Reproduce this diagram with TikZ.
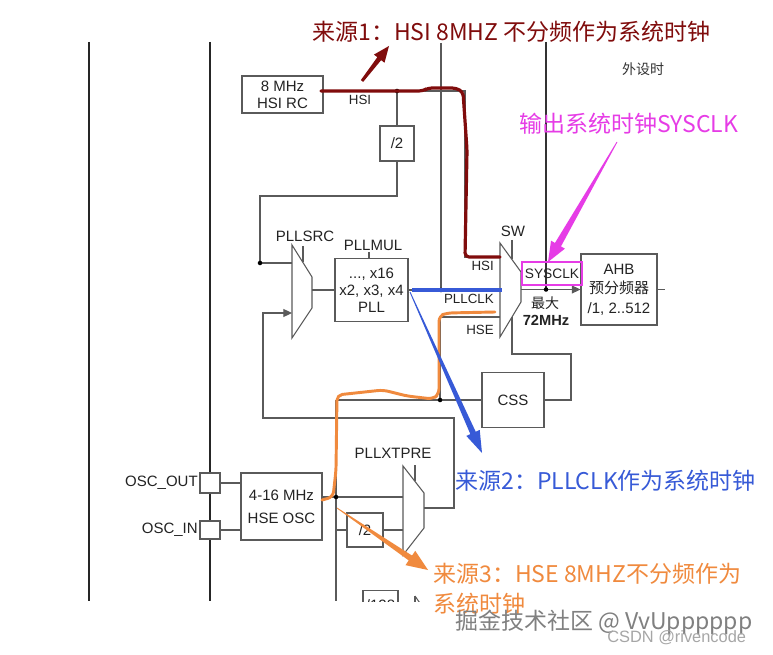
\documentclass[tikz,border=0pt]{standalone}
\usepackage{fontspec}
\setmainfont{Liberation Sans}
\newfontfamily\cjk{Noto Sans CJK SC}
\usetikzlibrary{calc,arrows.meta}
\definecolor{lncol}{RGB}{90,90,90}
\definecolor{txtcol}{RGB}{35,35,35}
\definecolor{hsired}{RGB}{128,12,12}
\definecolor{magcol}{RGB}{230,60,230}
\definecolor{pllblue}{RGB}{55,90,215}
\definecolor{hseor}{RGB}{240,138,62}
\newcommand{\tparrow}[7]{%
  \coordinate (tpB) at ($(#2)!#5!(#1)$);
  \fill[#7] ($(#1)!#3!90:(#2)$) -- ($(tpB)!#4!90:(#2)$) -- ($(tpB)!#6!90:(#2)$) -- (#2) -- ($(tpB)!#6!-90:(#2)$) -- ($(tpB)!#4!-90:(#2)$) -- ($(#1)!#3!-90:(#2)$) -- cycle;}
\begin{document}
\begin{tikzpicture}[x=0.75pt,y=-0.75pt,
  gl/.style={draw=lncol,line width=0.8pt},
  box/.style={draw=lncol,line width=0.8pt,fill=white,inner sep=0,align=center,text=txtcol,font=\fontsize{11.25}{12.75}\selectfont},
  lbl/.style={inner sep=0,text=txtcol,font=\fontsize{11.25}{13}\selectfont},
  slbl/.style={inner sep=0,text=txtcol,font=\fontsize{10}{12}\selectfont},
  ann/.style={inner sep=0,anchor=west,font=\cjk\fontsize{17.25}{20}\selectfont},
  arr/.style={-{Triangle[length=6.5pt,width=6pt]}}
]
\useasboundingbox (0,0) rectangle (773,655);
\fill[white] (0,0) rectangle (773,655);

% vertical rails
\draw[line width=1.6pt, black!85] (89,42) -- (89,601);
\draw[line width=1.6pt, black!85] (210,42) -- (210,601);
\draw[gl] (441,43) -- (441,290);
\draw[line width=1.1pt, black!80] (546,42) -- (546,289.5);

% HSI path (under red)
\draw[gl] (323,91) -- (465,91) -- (465,257) -- (500,257);

% boxes
\node[box,minimum width=60.75pt,minimum height=27.75pt] (hsirc) at (282.5,94.5) {8 MHz\\HSI RC};
\node[box,minimum width=25.5pt,minimum height=26.25pt] (div2a) at (397,143.5) {/2};
\node[box,minimum width=54.75pt,minimum height=47.25pt] (pll) at (371.5,290) {..., x16\\x2, x3, x4\\PLL};
\node[box,minimum width=57pt,minimum height=53.25pt,font=\fontsize{11.25}{14.5}\selectfont] (ahb) at (619,289.5) {AHB\\{\cjk 预分频器}\\/1, 2..512};
\node[box,minimum width=46.5pt,minimum height=41.25pt] (css) at (513,400) {CSS};
\node[box,minimum width=60.75pt,minimum height=50.25pt,font=\fontsize{11.25}{17.25}\selectfont] (hseosc) at (281.5,506.5) {4-16 MHz\\HSE OSC};
\node[box,minimum width=27pt,minimum height=25.5pt] (div2b) at (365,530) {/2};
\node[box,minimum width=15pt,minimum height=15pt] (oscout) at (210,483) {};
\node[box,minimum width=15pt,minimum height=13.5pt] (oscin) at (210,530) {};

% muxes
\draw[gl,fill=white] (292,245) -- (312,277) -- (312,308) -- (292,338) -- cycle;
\draw[gl,fill=white] (500,243) -- (521,272) -- (521,302) -- (500,337) -- cycle;
\draw[gl,fill=white] (403,466) -- (424,493) -- (424,528) -- (403,555) -- cycle;
\draw[gl] (303,246) -- (303,262);
\draw[gl] (512,240) -- (512,259);
\draw[gl] (415,465) -- (415,481);
\draw[gl] (369,252) -- (pll.north -| 369,0);

% connections
\draw[gl] (397,91) -- (div2a.north);
\draw[gl] (div2a.south) -- (397,196) -- (260,196) -- (260,263) -- (292,263);
\draw[gl] (312,290) -- (pll.west);
\draw[gl] (pll.east) -- (500,290);
\draw[gl] (322,497) -- (403,497);
\draw[gl] (336,400) -- (336,601);
\draw[gl] (336,400) -- (css.west);
\draw[gl] (440,400) -- (440,317) -- (500,317);
\draw[gl] (336,530) -- (div2b.west);
\draw[gl] (div2b.east) -- (403,530);
\draw[gl,arr] (424,508) -- (454,508) -- (454,418) -- (263,418) -- (263,313) -- (292,313);
\draw[gl,arr] (521,289.5) -- (ahb.west);
\draw[gl] (ahb.east) -- (665,289.5);
\draw[gl] (512,317) -- (512,354) -- (571,354) -- (571,400) -- (css.east);
\draw[gl] (oscout.east) -- (hseosc.west |- oscout.east);
\draw[gl] (oscin.east) -- (hseosc.west |- oscin.east);

% dots
\fill (397,91) circle (1.7pt);
\fill (260,263) circle (1.7pt);
\fill (441,290) circle (1.7pt);
\fill (546,289.5) circle (1.7pt);
\fill (440,400) circle (1.7pt);
\fill (336,497) circle (1.7pt);

% partial bottom elements
\begin{scope}
\clip (0,0) rectangle (773,601);
\node[box,minimum width=26.25pt,minimum height=22pt,anchor=north] (div128) at (380.5,590) {/128};
\draw[gl] (415,596) -- (415,612);
\draw[gl] (415,596) -- (426,612);
\end{scope}

% labels
\node[slbl] (lhsi) at (360,100) {HSI};
\node[lbl] (lpllsrc) at (305,236) {PLLSRC};
\node[lbl] (lpllmul) at (373,245) {PLLMUL};
\node[slbl,anchor=east] (lhsi2) at (494,266) {HSI};
\node[slbl,anchor=east] (lpllclk) at (494,299) {PLLCLK};
\node[slbl,anchor=east] (lhse) at (494,330) {HSE};
\node[lbl] (lsw) at (513,231) {SW};
\node[lbl,font=\cjk\fontsize{10.5}{12}\selectfont] (lmax) at (545,303) {最大};
\node[lbl,font=\bfseries\fontsize{11}{13}\selectfont] (l72) at (546,320) {72MHz};
\node[lbl,text=black!80,font=\cjk\fontsize{10.5}{12}\selectfont] (lperi) at (643,69) {外设时};
\node[lbl] (lxtpre) at (393,453) {PLLXTPRE};
\node[lbl,anchor=east] (losco) at (198,483) {OSC\_OUT};
\node[lbl,anchor=east] (losci) at (198,530) {OSC\_IN};

% highlight overlays
\draw[hsired, line width=2.4pt, line join=round, line cap=round, rounded corners=3pt] (321,91) -- (423,91) -- (428,88) -- (456,88) -- (463,92) -- (467,150) -- (465,257) -- (500,257);
\draw[pllblue, line width=2.4pt] (412,290) -- (502,290);
\draw[hseor, line width=2.2pt, line join=round, line cap=round, rounded corners=4pt] (322,500) -- (333,497) -- (336,470) -- (337,395) -- (383,390) -- (407,396) -- (433,399) -- (439,394) -- (439,316) -- (447,313) -- (495,312);
\node[draw=magcol,line width=1.6pt,minimum width=45pt,minimum height=17.25pt,inner sep=0,text=txtcol,font=\fontsize{10.3}{12}\selectfont] (sysclk) at (552,273.5) {SYSCLK};

% annotation arrows
\coordinate (a1s) at (362,81); \coordinate (a1t) at (389,46);
\tparrow{a1s}{a1t}{1.1pt}{1.8pt}{12pt}{5pt}{hsired}
\coordinate (a2s) at (617,142); \coordinate (a2t) at (548,262);
\tparrow{a2s}{a2t}{0.3pt}{2.6pt}{15pt}{6pt}{magcol}
\coordinate (a3s) at (410,292); \coordinate (a3t) at (482,453);
\tparrow{a3s}{a3t}{0.3pt}{2.2pt}{16.5pt}{5.5pt}{pllblue}
\coordinate (a4s) at (337,508); \coordinate (a4t) at (428,570);
\tparrow{a4s}{a4t}{0.3pt}{2.2pt}{16pt}{6.5pt}{hseor}

% annotation texts
\node[ann,text=hsired] (t1) at (312,32) {来源1：HSI 8MHZ 不分频作为系统时钟};
\node[ann,text=magcol] (t2) at (519,124) {输出系统时钟SYSCLK};
\node[ann,text=pllblue] (t3) at (455,481) {来源2：PLLCLK作为系统时钟};
\node[ann,text=hseor] (t4) at (433,574) {来源3：HSE 8MHZ不分频作为};
\node[ann,text=hseor] (t5) at (433,604) {系统时钟};

% watermarks
\node[inner sep=0,anchor=west,text=black!50,font=\cjk\fontsize{17.25}{20}\selectfont] (wm1) at (455,622) {掘金技术社区 @ VvUpppppp};
\node[inner sep=0,anchor=west,text=black!35,font=\fontsize{12.3}{14}\selectfont] (wm2) at (607,638) {CSDN @rivencode};
\end{tikzpicture}
\end{document}
